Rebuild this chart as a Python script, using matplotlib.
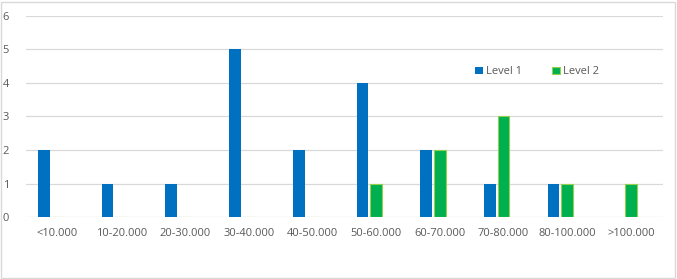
import matplotlib.pyplot as plt
from matplotlib.patches import Rectangle
import numpy as np

categories = ["<10.000", "10-20.000", "20-30.000", "30-40.000", "40-50.000",
              "50-60.000", "60-70.000", "70-80.000", "80-100.000", ">100.000"]
level1 = [2, 1, 1, 5, 2, 4, 2, 1, 1, 0]
level2 = [0, 0, 0, 0, 0, 1, 2, 3, 1, 1]

plt.rcParams["font.family"] = ["Open Sans", "DejaVu Sans"]

fig = plt.figure(figsize=(6.77, 2.79), dpi=100)
ax = fig.add_axes([0.038, 0.222, 0.941, 0.721])

x = np.arange(len(categories))
w = 0.185
step = 0.215
# Level 2 sits on the category centre, Level 1 one slot to the left
ax.bar(x - step, level1, width=w, color="#0070C0", label="Level 1", zorder=3)
ax.bar(x, level2, width=w, color="#00B050", edgecolor="#92D050",
       linewidth=0.8, label="Level 2", zorder=3)

ax.set_xlim(-0.5, len(categories) - 0.5)
ax.set_ylim(0, 6)
ax.set_yticks(range(7))
ax.set_xticks(x)
ax.set_xticklabels(categories)
ax.tick_params(axis="both", length=0, labelsize=8, colors="#595959")
ax.tick_params(axis="x", pad=8)
ax.tick_params(axis="y", pad=12)
ax.grid(axis="y", color="#D9D9D9", linewidth=0.9, zorder=0)
for s in ax.spines.values():
    s.set_visible(False)

leg = ax.legend(loc="center", bbox_to_anchor=(0.803, 0.722), ncol=2, frameon=False,
                fontsize=8, handlelength=0.7, handleheight=0.7, columnspacing=2.7,
                handletextpad=0.3)
for t in leg.get_texts():
    t.set_color("#595959")

fig.patches.append(Rectangle((0.002, 0.004), 0.995, 0.99, transform=fig.transFigure,
                             fill=False, edgecolor="#D9D9D9", linewidth=1))

fig.savefig("out.png", dpi=100)
